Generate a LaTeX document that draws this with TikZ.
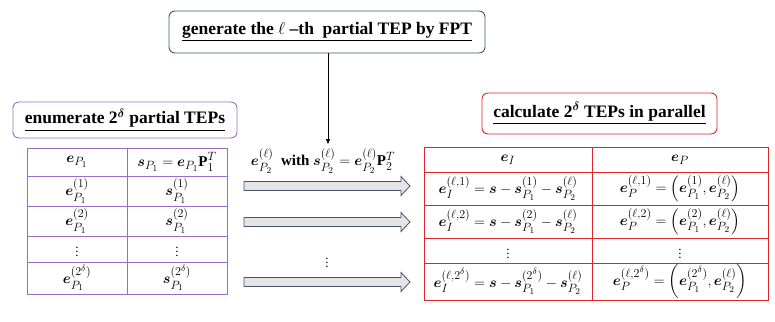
\documentclass[tikz,border=0pt]{standalone}
\usepackage{amsmath,bm}
\usepackage{fontspec}
\setmainfont{Liberation Serif}[BoldFont={Liberation Serif Bold}]
\DeclareMathSizes{15}{15}{11.5}{9}
\DeclareMathSizes{17.5}{17.5}{13}{10}
\usetikzlibrary{arrows.meta}
\definecolor{purp}{HTML}{9B6BC8}
\definecolor{redc}{HTML}{E0262B}
\definecolor{slate}{HTML}{44546A}
\definecolor{agray}{HTML}{E4E4E4}
\tikzset{
  titlebox/.style={draw, rounded corners=6pt, line width=0.9pt, font=\fontsize{17.5}{21}\selectfont\bfseries, inner sep=0pt, align=center},
  cell/.style={font=\fontsize{15}{17}\selectfont, inner sep=0pt},
  dotcell/.style={font=\fontsize{13}{14}\selectfont, inner sep=0pt},
  purpline/.style={draw=purp, line width=0.9pt},
  redline/.style={draw=redc, line width=0.9pt},
  blockarrow/.style={fill=agray, draw=slate, line width=0.8pt, line join=miter}
}
\newcommand{\bE}{\bm{e}}
\newcommand{\bS}{\bm{s}}
\newcommand{\vd}{\raisebox{-0.2ex}{$\vdots$}}
\begin{document}
\begin{tikzpicture}[x=1pt,y=-1pt]
\useasboundingbox (0,0) rectangle (775,321);
% titles
\node[titlebox, draw=slate, minimum width=316pt, minimum height=42pt] (gen) at (327,32) {\underline{generate the $\ell$ –th\ \ partial TEP by FPT}};
\node[titlebox, draw=purp, minimum width=224pt, minimum height=36pt] (enum) at (125,120) {\underline{enumerate 2$^{\bm{\delta}}$ partial TEPs}};
\node[titlebox, draw=redc, minimum width=235pt, minimum height=41pt] (calc) at (599.5,113.5) {\underline{calculate 2$^{\bm{\delta}}$ TEPs in parallel}};
\coordinate (genend) at (328,144);
\draw[-{Triangle[length=5pt,width=4pt]}, line width=0.7pt] (gen.south -| genend) -- (genend);
% middle label
\node[font=\fontsize{15}{17}\selectfont\bfseries, inner sep=0pt] (lab) at (323,161) {$\bE^{(\ell)}_{P_2}$\ \ with $\bS^{(\ell)}_{P_2}=\bE^{(\ell)}_{P_2}\mathbf{P}_2^T$};
% block arrows
\foreach \yy/\nm in {186/a1,222/a2,282/a3}{
  \draw[blockarrow] (244,\yy-4.5) -- (401,\yy-4.5) -- (401,\yy-9.5) -- (410,\yy) -- (401,\yy+9.5) -- (401,\yy+4.5) -- (244,\yy+4.5) -- cycle;
}
\node[dotcell] (mdots) at (327,260) {\vd};
% left table
\draw[purpline] (27,148) rectangle (227,294);
\draw[purpline] (127,148) -- (127,294);
\foreach \yy in {176,206,236,262}{\draw[purpline] (27,\yy) -- (227,\yy);}
\node[cell] (l11) at (77,162) {$\bE_{P_1}$};
\node[cell] (l12) at (177,162) {$\bS_{P_1}=\bE_{P_1}\mathbf{P}_1^T$};
\node[cell] (l21) at (77,191) {$\bE^{(1)}_{P_1}$};
\node[cell] (l22) at (177,191) {$\bS^{(1)}_{P_1}$};
\node[cell] (l31) at (77,221) {$\bE^{(2)}_{P_1}$};
\node[cell] (l32) at (177,221) {$\bS^{(2)}_{P_1}$};
\node[dotcell] (l41) at (77,249) {\vd};
\node[dotcell] (l42) at (177,249) {\vd};
\node[cell] (l51) at (77,278) {$\bE^{(2^{\delta})}_{P_1}$};
\node[cell] (l52) at (177,278) {$\bS^{(2^{\delta})}_{P_1}$};
% right table
\draw[redline] (424,147) rectangle (768,300);
\draw[redline] (592,147) -- (592,300);
\foreach \yy in {172,205,238,263}{\draw[redline] (424,\yy) -- (768,\yy);}
\node[cell] (r11) at (508,159.5) {$\bE_I$};
\node[cell] (r12) at (680,159.5) {$\bE_P$};
\node[cell] (r21) at (508,188.5) {$\bE_I^{(\ell,1)}=\bS-\bS^{(1)}_{P_1}-\bS^{(\ell)}_{P_2}$};
\node[cell] (r22) at (680,188.5) {$\bE_P^{(\ell,1)}=\left(\bE^{(1)}_{P_1},\bE^{(\ell)}_{P_2}\right)$};
\node[cell] (r31) at (508,221.5) {$\bE_I^{(\ell,2)}=\bS-\bS^{(2)}_{P_1}-\bS^{(\ell)}_{P_2}$};
\node[cell] (r32) at (680,221.5) {$\bE_P^{(\ell,2)}=\left(\bE^{(2)}_{P_1},\bE^{(\ell)}_{P_2}\right)$};
\node[dotcell] (r41) at (508,250.5) {\vd};
\node[dotcell] (r42) at (680,250.5) {\vd};
\node[cell] (r51) at (508,281.5) {$\bE_I^{(\ell,2^{\delta})}=\bS-\bS^{(2^{\delta})}_{P_1}-\bS^{(\ell)}_{P_2}$};
\node[cell] (r52) at (680,281.5) {$\bE_P^{(\ell,2^{\delta})}=\left(\bE^{(2^{\delta})}_{P_1},\bE^{(\ell)}_{P_2}\right)$};
\end{tikzpicture}
\end{document}
